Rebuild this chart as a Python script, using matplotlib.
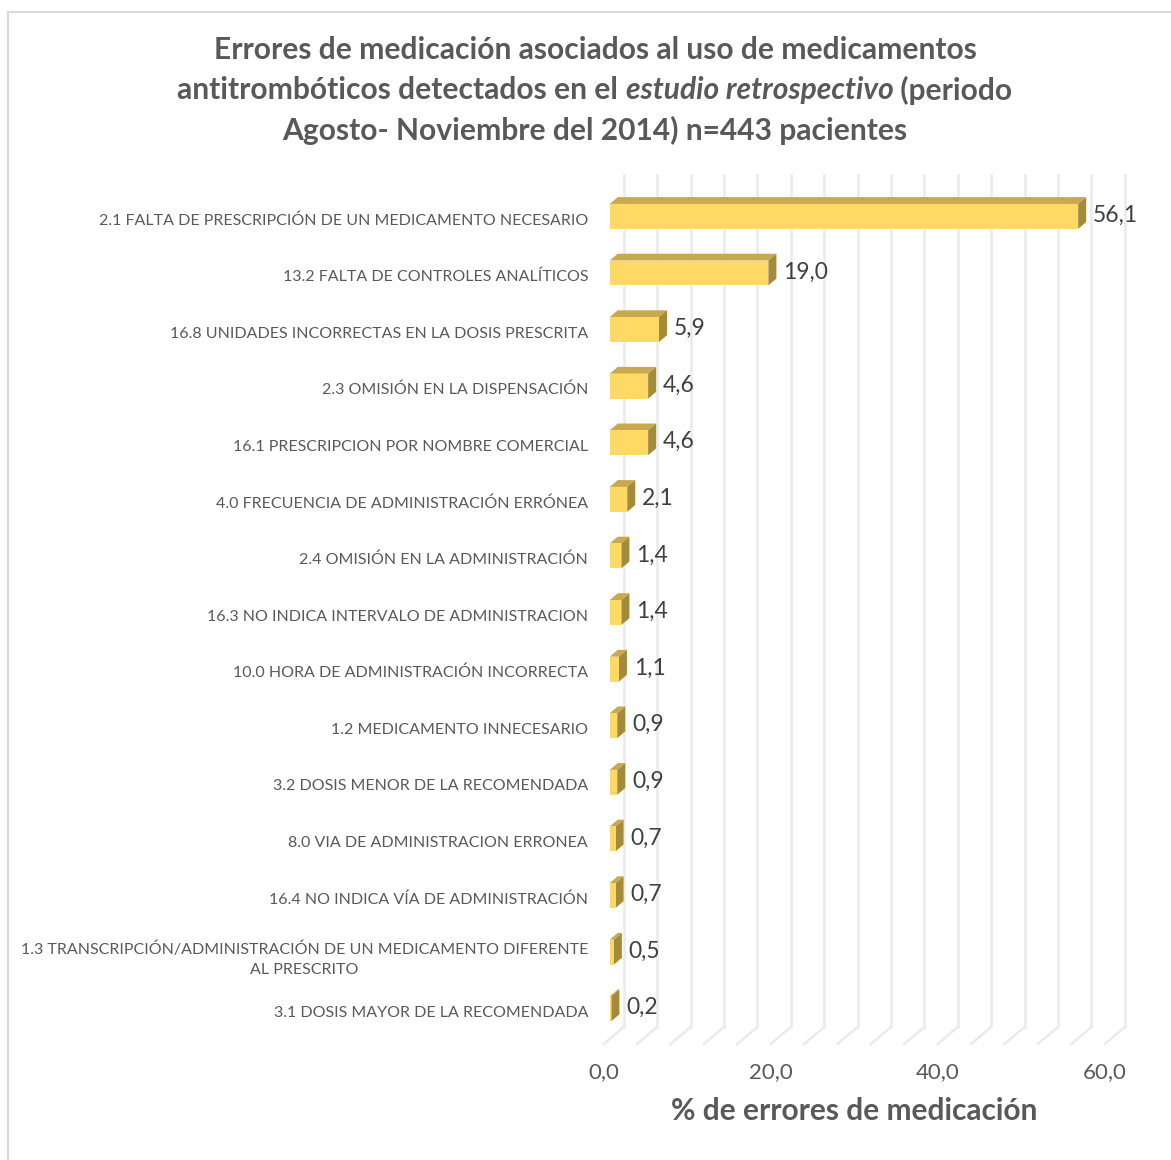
import numpy as np
import matplotlib.pyplot as plt
from matplotlib.patches import Polygon, Rectangle

# ----------------------
# DATA
# ----------------------
categories = [
    "2.1 FALTA DE PRESCRIPCIÓN DE UN MEDICAMENTO NECESARIO",
    "13.2 FALTA DE CONTROLES ANALÍTICOS",
    "16.8 UNIDADES INCORRECTAS EN LA DOSIS PRESCRITA",
    "2.3 OMISIÓN EN LA DISPENSACIÓN",
    "16.1 PRESCRIPCION POR NOMBRE COMERCIAL",
    "4.0 FRECUENCIA DE ADMINISTRACIÓN ERRÓNEA",
    "2.4 OMISIÓN EN LA ADMINISTRACIÓN",
    "16.3 NO INDICA INTERVALO DE ADMINISTRACION",
    "10.0 HORA DE ADMINISTRACIÓN INCORRECTA",
    "1.2 MEDICAMENTO INNECESARIO",
    "3.2 DOSIS MENOR DE LA RECOMENDADA",
    "8.0 VIA DE ADMINISTRACION ERRONEA",
    "16.4 NO INDICA VÍA DE ADMINISTRACIÓN",
    "1.3 TRANSCRIPCIÓN/ADMINISTRACIÓN DE UN MEDICAMENTO DIFERENTE\nAL PRESCRITO",
    "3.1 DOSIS MAYOR DE LA RECOMENDADA",
]
values = [56.1, 19.0, 5.9, 4.6, 4.6, 2.1, 1.4, 1.4, 1.1, 0.9, 0.9, 0.7, 0.7, 0.5, 0.2]
x_ticks = [0, 20, 40, 60]
x_max = 60
grid_step = 4

title_l1 = "Errores de medicación asociados al uso de medicamentos"
title_l2 = [("antitrombóticos detectados en el ", "normal"),
            ("estudio retrospectivo", "italic"),
            (" (periodo", "normal")]
title_l3 = "Agosto- Noviembre del 2014) n=443 pacientes"
x_title = "% de errores de medicación"

# ----------------------
# STYLE
# ----------------------
FONT = "Lato"
C_TEXT = "#595959"
C_VAL = "#404040"
C_FRONT = "#FFD966"
C_TOP = "#C9A94E"
C_SIDE = "#A48B3C"
C_GRID = "#EBEBEB"

DX = 2.4      # depth offset (value units)
DY = 0.30     # depth offset (row units)
D0, D1 = 0.3, 0.7   # bar depth range (0 front, 1 back)
BAR_H = 0.44
Y_FLOOR = 14.58
Y_TOP = -0.78
TITLE_SIZE = 21.6

W, H = 1171, 1160
fig = plt.figure(figsize=(W / 100, H / 100), dpi=100)

# chart frame
fig.patches.append(Rectangle((8 / W, 0 - 0.01), 1.2, 1 - 12 / H + 0.01,
                             transform=fig.transFigure, fill=False,
                             edgecolor="#D9D9D9", linewidth=1.5))

ax_l, ax_r, ax_t, ax_b = 595, 1160, 160, 1044
ax = fig.add_axes([ax_l / W, 1 - ax_b / H, (ax_r - ax_l) / W, (ax_b - ax_t) / H])
px_per_unit = 8.35
x0_px = 603.7
ax.set_xlim((ax_l - x0_px) / px_per_unit, (ax_r - x0_px) / px_per_unit)
ax.set_ylim(Y_FLOOR, -1.04)
for s in ax.spines.values():
    s.set_visible(False)
ax.patch.set_alpha(0)


def P(x, y, d):
    return (x + d * DX, y - d * DY)


# back wall + floor gridlines
for g in np.arange(0, x_max + 1, grid_step):
    bx, by = P(g, Y_FLOOR, 1)
    ax.plot([bx, bx], [Y_TOP, by], color=C_GRID, lw=1.8, zorder=1, clip_on=False)
    ax.plot([bx, g], [by, Y_FLOOR], color=C_GRID, lw=1.8, zorder=1, clip_on=False)

# 3D bars
for i, v in enumerate(values):
    c = i - 0.044 + D0 * DY
    yt, yb = c - BAR_H / 2, c + BAR_H / 2
    front = [P(0, yt, D0), P(v, yt, D0), P(v, yb, D0), P(0, yb, D0)]
    top = [P(0, yt, D0), P(v, yt, D0), P(v, yt, D1), P(0, yt, D1)]
    side = [P(v, yt, D0), P(v, yb, D0), P(v, yb, D1), P(v, yt, D1)]
    ax.add_patch(Polygon(top, closed=True, facecolor=C_TOP, edgecolor="none", zorder=3))
    ax.add_patch(Polygon(side, closed=True, facecolor=C_SIDE, edgecolor="none", zorder=3))
    ax.add_patch(Polygon(front, closed=True, facecolor=C_FRONT, edgecolor="none", zorder=4))
    lx, ly = P(v, c, D1)
    ax.annotate(f"{v:.1f}".replace(".", ","), xy=(lx, i - 0.06), xytext=(5, 0),
                textcoords="offset points", ha="left", va="center",
                fontsize=16.5, color=C_VAL, family=FONT, zorder=5)

# category axis
ax.set_yticks(range(len(categories)))
ax.set_yticklabels(categories, fontsize=11.5, color=C_TEXT, family=FONT,
                   multialignment="center", linespacing=1.55)
ax.tick_params(axis="y", length=0, pad=5)

# value axis
ax.set_xticks(x_ticks)
ax.set_xticklabels([f"{t:.1f}".replace(".", ",") for t in x_ticks],
                   fontsize=16, color=C_TEXT, family=FONT)
ax.tick_params(axis="x", length=0, pad=13)
xlo, xhi = ax.get_xlim()
ax.set_xlabel(x_title, fontsize=21.5, fontweight="bold", color=C_TEXT, family=FONT)
ax.xaxis.set_label_coords((x_max / 2 - xlo) / (xhi - xlo), -0.06)

# title (middle line has an italic part)
cx = 595 / W
fig.text(cx, 1 - 50 / H, title_l1, ha="center", va="center", fontsize=TITLE_SIZE,
         fontweight="bold", color=C_TEXT, family=FONT)
fig.text(cx, 1 - 130 / H, title_l3, ha="center", va="center", fontsize=TITLE_SIZE,
         fontweight="bold", color=C_TEXT, family=FONT)
renderer = fig.canvas.get_renderer()
parts = []
for s, style in title_l2:
    t = fig.text(0, 1 - 90 / H, s, ha="left", va="center", fontsize=TITLE_SIZE,
                 fontweight="bold", fontstyle=style, color=C_TEXT, family=FONT)
    parts.append(t)
widths = [t.get_window_extent(renderer).width / W for t in parts]
x = cx - sum(widths) / 2
for t, w in zip(parts, widths):
    t.set_x(x)
    x += w

fig.savefig("out.png", dpi=100)
